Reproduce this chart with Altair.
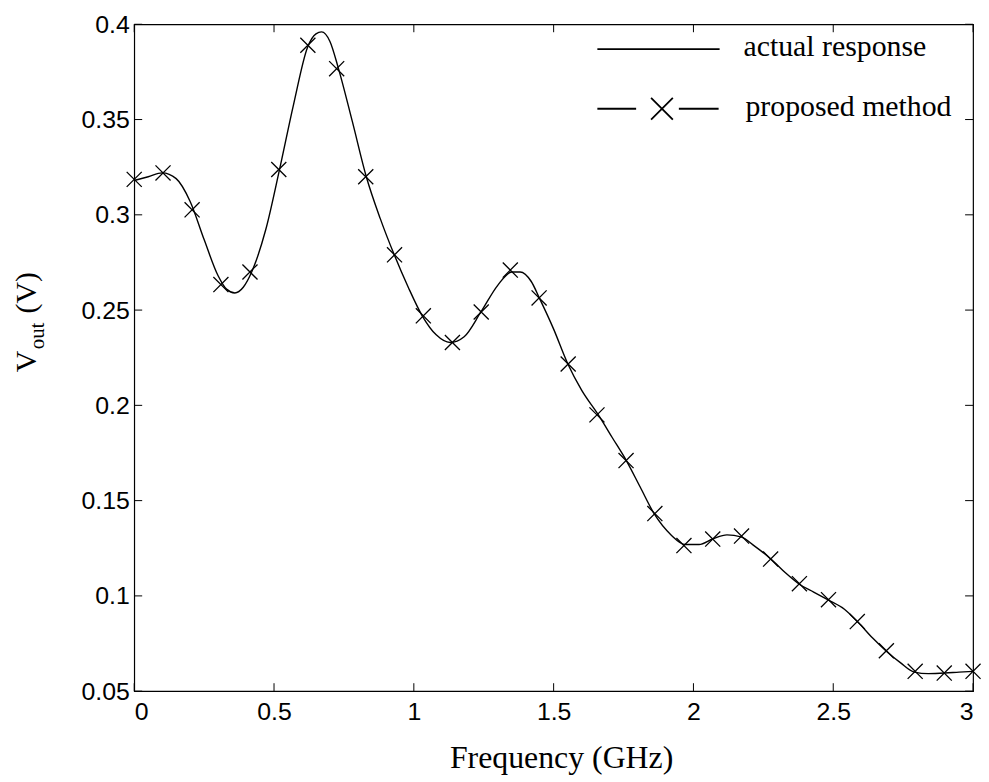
import altair as alt
import pandas as pd

# ---- data ----
curve_x = [0.0, 0.05, 0.1, 0.15, 0.2, 0.25, 0.3, 0.33, 0.36, 0.39, 0.42, 0.47, 0.52, 0.57,
           0.62, 0.65, 0.67, 0.70, 0.73, 0.78, 0.83, 0.88, 0.93, 0.98, 1.03, 1.08, 1.13,
           1.18, 1.24, 1.30, 1.35, 1.38, 1.42, 1.45, 1.50, 1.55, 1.60, 1.66, 1.71, 1.76,
           1.81, 1.86, 1.92, 1.97, 2.02, 2.07, 2.12, 2.17, 2.22, 2.28, 2.33, 2.38, 2.43,
           2.48, 2.54, 2.59, 2.64, 2.69, 2.74, 2.79, 2.84, 2.90, 2.95, 3.0]
curve_y = [0.318, 0.320, 0.322, 0.319, 0.307, 0.287, 0.268, 0.261, 0.259, 0.262, 0.270,
           0.292, 0.324, 0.358, 0.388, 0.395, 0.396, 0.391, 0.377, 0.349, 0.320, 0.298,
           0.279, 0.262, 0.247, 0.237, 0.233, 0.236, 0.249, 0.263, 0.270, 0.270, 0.265,
           0.256, 0.240, 0.222, 0.208, 0.195, 0.183, 0.171, 0.157, 0.143, 0.132, 0.127,
           0.127, 0.130, 0.132, 0.131, 0.126, 0.119, 0.112, 0.106, 0.102, 0.098, 0.093,
           0.086, 0.078, 0.071, 0.065, 0.060, 0.0592, 0.0595, 0.060, 0.0604]

marker_x = [0.0, 0.103, 0.207, 0.310, 0.414, 0.517, 0.621, 0.724, 0.828, 0.931, 1.034,
            1.138, 1.241, 1.345, 1.448, 1.552, 1.655, 1.759, 1.862, 1.966, 2.069, 2.172,
            2.276, 2.379, 2.483, 2.586, 2.690, 2.793, 2.897, 3.0]
marker_y = [0.3186, 0.322, 0.3026, 0.2634, 0.270, 0.3238, 0.389, 0.3767, 0.320, 0.279,
            0.247, 0.233, 0.249, 0.271, 0.2564, 0.2217, 0.195, 0.171, 0.1432, 0.1264,
            0.1298, 0.1314, 0.1193, 0.1064, 0.098, 0.0865, 0.0712, 0.0604, 0.0595, 0.0604]

x_ticks = [0, 0.5, 1, 1.5, 2, 2.5, 3]
y_ticks = [0.05, 0.1, 0.15, 0.2, 0.25, 0.3, 0.35, 0.4]
legend_labels = ["actual response", "proposed method"]
x_title = "Frequency (GHz)"

W, H = 844, 671
SERIF = "Liberation Serif"
SANS = "Liberation Sans"
XPATH = "M-1,-1L1,1M-1,1L1,-1"

curve = pd.DataFrame({"f": curve_x, "v": curve_y})
marks = pd.DataFrame({"f": marker_x, "v": marker_y})
xt = pd.DataFrame({"t": x_ticks})
yt = pd.DataFrame({"t": y_ticks})
one = pd.DataFrame({"a": [0]})

xs = alt.Scale(domain=[0, 3], nice=False, zero=False)
ys = alt.Scale(domain=[0.05, 0.4], nice=False, zero=False)

x_axis = alt.Axis(values=x_ticks, format="~g", ticks=False, domain=False, grid=False,
                  labelFont=SANS, labelFontSize=25, labelColor="black", labelPadding=9,
                  title=None)
y_axis = alt.Axis(values=y_ticks, format="~g", ticks=False, domain=False, grid=False,
                  labelFont=SANS, labelFontSize=25, labelColor="black", labelPadding=5,
                  title=None)

base_curve = alt.Chart(curve).mark_line(color="black", strokeWidth=1.4, interpolate="monotone").encode(
    x=alt.X("f:Q", scale=xs, axis=x_axis),
    y=alt.Y("v:Q", scale=ys, axis=y_axis),
)

marker_layer = alt.Chart(marks).mark_point(shape=XPATH, size=230, color="black",
                                           strokeWidth=1.3, filled=False, opacity=1).encode(
    x=alt.X("f:Q", scale=xs),
    y=alt.Y("v:Q", scale=ys),
)

tick_bottom = alt.Chart(xt).mark_rule(color="black", strokeWidth=1).encode(
    x=alt.X("t:Q", scale=xs), y=alt.value(H), y2=alt.value(H - 8))
tick_top = alt.Chart(xt).mark_rule(color="black", strokeWidth=1).encode(
    x=alt.X("t:Q", scale=xs), y=alt.value(0), y2=alt.value(8))
tick_left = alt.Chart(yt).mark_rule(color="black", strokeWidth=1).encode(
    y=alt.Y("t:Q", scale=ys), x=alt.value(0), x2=alt.value(8))
tick_right = alt.Chart(yt).mark_rule(color="black", strokeWidth=1).encode(
    y=alt.Y("t:Q", scale=ys), x=alt.value(W), x2=alt.value(W - 8))

# legend (drawn by hand, MATLAB style)
leg_line1 = alt.Chart(one).mark_rule(color="black", strokeWidth=1.8).encode(
    x=alt.value(466), x2=alt.value(589), y=alt.value(25))
leg_line2a = alt.Chart(one).mark_rule(color="black", strokeWidth=1.8).encode(
    x=alt.value(466), x2=alt.value(505), y=alt.value(85))
leg_line2b = alt.Chart(one).mark_rule(color="black", strokeWidth=1.8).encode(
    x=alt.value(548), x2=alt.value(588), y=alt.value(85))
leg_x = alt.Chart(one).mark_point(shape=XPATH, size=480, color="black",
                                  strokeWidth=1.8, filled=False, opacity=1).encode(
    x=alt.value(531), y=alt.value(85))
leg_t1 = alt.Chart(one).mark_text(text=legend_labels[0], font=SERIF, fontSize=30,
                                  align="left", baseline="middle", color="black").encode(
    x=alt.value(613), y=alt.value(23))
leg_t2 = alt.Chart(one).mark_text(text=legend_labels[1], font=SERIF, fontSize=30,
                                  align="left", baseline="middle", color="black").encode(
    x=alt.value(615), y=alt.value(83))

# x-axis title
xt_text = alt.Chart(one).mark_text(text=x_title, font=SERIF, fontSize=32, align="center",
                                   baseline="alphabetic", color="black").encode(
    x=alt.value(430), y=alt.value(748))

# y-axis title with subscript
yt_v = alt.Chart(one).mark_text(text="V", font=SERIF, fontSize=30, angle=270,
                                align="left", baseline="alphabetic", color="black").encode(
    x=alt.value(-99), y=alt.value(350))
yt_out = alt.Chart(one).mark_text(text="out", font=SERIF, fontSize=21, angle=270,
                                  align="left", baseline="alphabetic", color="black").encode(
    x=alt.value(-91), y=alt.value(327))
yt_unit = alt.Chart(one).mark_text(text="(V)", font=SERIF, fontSize=30, angle=270,
                                   align="left", baseline="alphabetic", color="black").encode(
    x=alt.value(-99), y=alt.value(291))

chart = alt.layer(
    base_curve, marker_layer, tick_bottom, tick_top, tick_left, tick_right,
    leg_line1, leg_line2a, leg_line2b, leg_x, leg_t1, leg_t2, xt_text, yt_v, yt_out, yt_unit,
).properties(
    width=W, height=H,
    padding={"left": 127, "top": 14, "right": 8, "bottom": 85},
    autosize=alt.AutoSizeParams(type="none"),
    background="white",
).configure_view(stroke="black", strokeWidth=1.2)

chart.save("out.html", embed_options={"renderer": "svg", "actions": False})
